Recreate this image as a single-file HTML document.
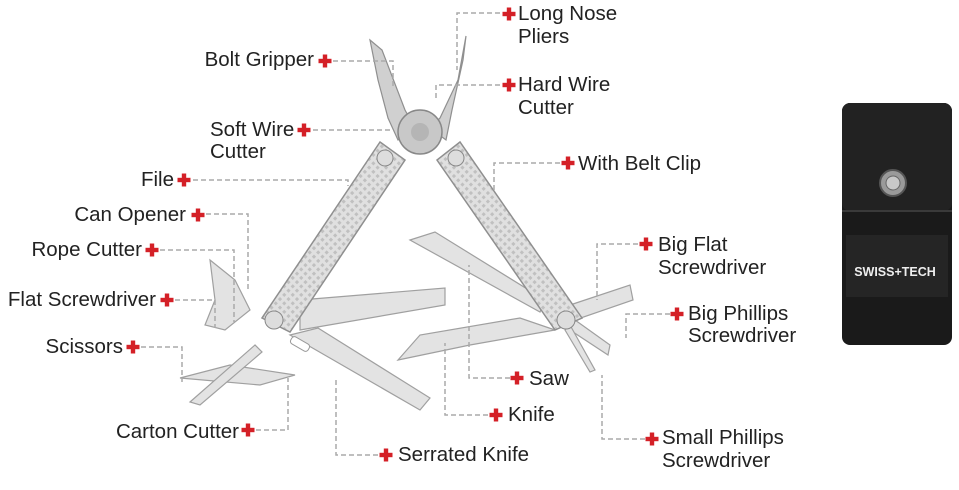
<!DOCTYPE html>
<html><head><meta charset="utf-8"><style>
html,body{margin:0;padding:0;background:#fff;}
svg{display:block;}
text{font-family:"Liberation Sans","DejaVu Sans",sans-serif;font-size:20.5px;fill:#222;}
.d{stroke:#aaa;stroke-width:1.5;stroke-dasharray:5,3;fill:none;}
.m{fill:#d0d0d0;stroke:#8f8f8f;stroke-width:1.2;}
.l{fill:#e3e3e3;stroke:#a0a0a0;stroke-width:1.2;}
</style></head><body>
<svg width="959" height="490" viewBox="0 0 959 490" xmlns="http://www.w3.org/2000/svg">
<defs>
<g id="c"><rect x="-6.5" y="-2.2" width="13" height="4.4" fill="#d42027"/><rect x="-2.2" y="-6.5" width="4.4" height="13" fill="#d42027"/></g>
<pattern id="k" width="6" height="6" patternUnits="userSpaceOnUse" patternTransform="rotate(45)"><rect width="6" height="6" fill="#e0e0e0"/><rect width="3" height="3" fill="#c0c0c0"/></pattern>
</defs>

<polygon class="l" points="410,240 435,232 545,300 540,312" />
<polygon class="l" points="300,300 445,288 445,305 300,330"/>
<polygon class="l" points="290,335 318,328 430,398 420,410"/>
<polygon class="l" points="398,360 420,335 520,318 555,330 470,345"/>
<polygon class="l" points="570,305 630,285 633,300 575,320"/>
<polygon class="l" points="575,320 610,345 608,355 570,330"/>
<polygon class="l" points="570,325 595,370 590,372 565,330"/>
<polygon class="l" points="210,260 235,280 250,310 225,330 205,325 215,300"/>
<polygon class="l" points="180,378 230,365 295,375 260,385"/>
<polygon class="l" points="190,402 255,345 262,352 200,405"/>
<rect x="290" y="340" width="20" height="8" rx="3" fill="#fff" stroke="#999" transform="rotate(30 300 344)"/>

<polygon class="m" points="370,40 382,50 405,110 415,128 398,140 388,118 378,80"/>
<polygon class="m" points="466,36 458,80 440,118 430,128 446,140 452,110 463,60"/>
<circle cx="420" cy="132" r="22" fill="#c8c8c8" stroke="#888" stroke-width="1.5"/>
<circle cx="420" cy="132" r="9" fill="#b5b5b5"/>

<polygon fill="url(#k)" stroke="#8f8f8f" stroke-width="1.5" points="380,142 405,160 290,332 262,318"/>
<polygon fill="url(#k)" stroke="#8f8f8f" stroke-width="1.5" points="460,142 437,160 555,330 582,318"/>
<circle cx="385" cy="158" r="8" fill="#ddd" stroke="#888"/>
<circle cx="456" cy="158" r="8" fill="#ddd" stroke="#888"/>
<circle cx="274" cy="320" r="9" fill="#ddd" stroke="#888"/>
<circle cx="566" cy="320" r="9" fill="#ddd" stroke="#888"/>

<rect x="842" y="103" width="110" height="242" rx="8" fill="#1a1a1a"/>
<rect x="842" y="103" width="110" height="108" rx="8" fill="#222"/>
<line x1="842" y1="211" x2="952" y2="211" stroke="#3a3a3a" stroke-width="2"/>
<rect x="846" y="235" width="102" height="62" fill="#252525"/>
<circle cx="893" cy="183" r="13" fill="#9a9a9a" stroke="#555" stroke-width="2"/>
<circle cx="893" cy="183" r="7" fill="#c8c8c8" stroke="#666"/>
<text x="895" y="276" text-anchor="middle" style="font-size:12.5px;font-weight:bold;fill:#eee;">SWISS+TECH</text>

<path class="d" d="M500,13 H457 V70"/>
<path class="d" d="M333,61 H393 V88"/>
<path class="d" d="M500,85 H436 V100"/>
<path class="d" d="M313,130 H392"/>
<path class="d" d="M193,180 H348 V186"/>
<path class="d" d="M560,163 H494 V190"/>
<path class="d" d="M206,214 H248 V290"/>
<path class="d" d="M160,250 H234 V322"/>
<path class="d" d="M175,300 H215 V328"/>
<path class="d" d="M141,347 H182 V382"/>
<path class="d" d="M256,430 H288 V378"/>
<path class="d" d="M378,455 H336 V378"/>
<path class="d" d="M638,244 H597 V300"/>
<path class="d" d="M670,314 H626 V338"/>
<path class="d" d="M510,378 H469 V265"/>
<path class="d" d="M488,415 H445 V343"/>
<path class="d" d="M645,439 H602 V375"/>

<use href="#c" x="509" y="14"/><use href="#c" x="325" y="61"/><use href="#c" x="509" y="85"/>
<use href="#c" x="304" y="130"/><use href="#c" x="184" y="180"/><use href="#c" x="568" y="163"/>
<use href="#c" x="198" y="215"/><use href="#c" x="152" y="250"/><use href="#c" x="167" y="300"/>
<use href="#c" x="133" y="347"/><use href="#c" x="248" y="430"/><use href="#c" x="386" y="455"/>
<use href="#c" x="646" y="244"/><use href="#c" x="677" y="314"/><use href="#c" x="517" y="378"/>
<use href="#c" x="496" y="415"/><use href="#c" x="652" y="439"/>

<text x="518" y="20">Long Nose</text><text x="518" y="43">Pliers</text>
<text x="314" y="66" text-anchor="end">Bolt Gripper</text>
<text x="518" y="91">Hard Wire</text><text x="518" y="114">Cutter</text>
<text x="210" y="136">Soft Wire</text><text x="210" y="158">Cutter</text>
<text x="174" y="186" text-anchor="end">File</text>
<text x="578" y="170">With Belt Clip</text>
<text x="186" y="221" text-anchor="end">Can Opener</text>
<text x="142" y="256" text-anchor="end">Rope Cutter</text>
<text x="156" y="306" text-anchor="end">Flat Screwdriver</text>
<text x="123" y="353" text-anchor="end">Scissors</text>
<text x="239" y="438" text-anchor="end">Carton Cutter</text>
<text x="398" y="461">Serrated Knife</text>
<text x="658" y="251">Big Flat</text><text x="658" y="274">Screwdriver</text>
<text x="688" y="320">Big Phillips</text><text x="688" y="342">Screwdriver</text>
<text x="529" y="385">Saw</text>
<text x="508" y="421">Knife</text>
<text x="662" y="444">Small Phillips</text><text x="662" y="467">Screwdriver</text>
</svg>
</body></html>
